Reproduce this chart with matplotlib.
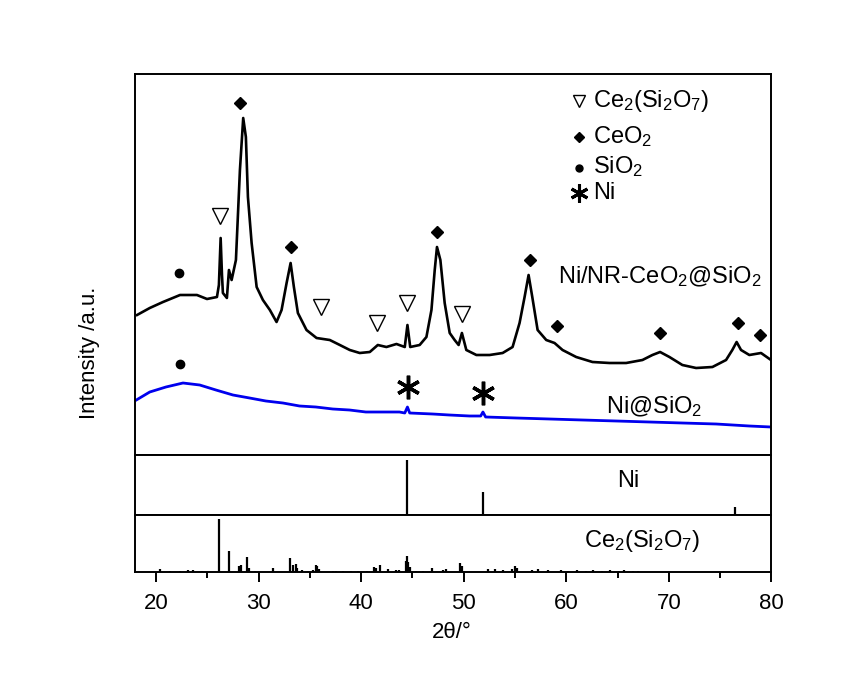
import numpy as np
import matplotlib
matplotlib.use("Agg")
import matplotlib.pyplot as plt
from matplotlib.ticker import MultipleLocator

plt.rcParams['font.family'] = ['Liberation Sans', 'DejaVu Sans']
plt.rcParams['mathtext.default'] = 'regular'

# Ni/NR-CeO2@SiO2 pattern (2theta, a.u.)
tt_cat = [18.15, 19.39, 20.68, 22.34, 23.99, 24.97, 25.94, 26.13, 26.30, 26.43,
          26.52, 26.91, 27.11, 27.37, 27.79, 28.18, 28.50, 28.76, 28.96, 29.32,
          29.81, 30.42, 31.10, 31.75, 32.24, 32.73, 33.12, 33.44, 33.83, 34.67,
          35.65, 36.94, 37.92, 38.89, 39.86, 40.84, 41.62, 42.46, 43.44, 44.25,
          44.51, 44.78, 45.70, 46.36, 46.85, 47.17, 47.39, 47.72, 48.14, 48.63,
          49.11, 49.50, 49.82, 50.25, 51.23, 52.52, 53.79, 54.76, 55.44, 55.93,
          56.32, 56.68, 57.20, 58.04, 58.85, 59.63, 60.96, 62.55, 64.21, 65.83,
          67.42, 68.39, 69.14, 70.05, 71.31, 72.65, 74.24, 75.57, 76.18, 76.60,
          77.03, 77.84, 78.98, 79.95]
i_cat = [140, 147, 153, 160, 160, 156, 158, 170, 217, 180,
         162, 157, 185, 175, 195, 285, 337, 318, 258, 212,
         168, 155, 145, 133, 145, 172, 192, 168, 142, 125,
         117, 115, 110, 105, 102, 103, 110, 108, 111, 108,
         130, 108, 110, 118, 145, 185, 208, 195, 152, 122,
         115, 110, 122, 105, 100, 100, 102, 108, 132, 158,
         180, 158, 125, 115, 112, 105, 98, 93, 92, 92,
         95, 100, 103, 98, 90, 87, 88, 95, 105, 113,
         105, 100, 102, 95]

# Ni@SiO2 pattern
tt_ref = [18.08, 19.39, 20.97, 22.63, 24.26, 25.84, 27.50, 29.12, 30.71, 32.37,
          33.99, 35.58, 37.23, 38.86, 40.45, 42.10, 43.73, 44.25, 44.51, 44.73,
          46.97, 48.60, 50.57, 51.65, 51.87, 52.13, 55.12, 58.36, 61.58, 64.86,
          68.10, 71.31, 74.60, 77.84, 79.95]
i_ref = [55, 63, 68, 72, 70, 65, 60, 57, 54, 52,
         49, 48, 46, 45, 43, 43, 43, 42, 48, 42,
         41, 40, 39, 39, 43, 38, 37, 36, 35, 34,
         33, 32, 31, 29, 28]

# reference sticks
ni_pos = [44.5, 51.85, 76.4]
ni_int = [100, 42, 15]

ce_pos = [20.39, 21.36, 22.34, 23.15, 23.63, 24.45, 26.16, 27.07, 28.11, 28.24,
          28.83, 29.03, 29.64, 31.42, 33.05, 33.37, 33.60, 33.76, 34.19, 34.83,
          35.32, 35.55, 35.74, 35.90, 37.27, 37.59, 38.24, 39.05, 39.70, 40.52,
          41.26, 41.49, 41.81, 42.62, 43.43, 43.69, 44.34, 44.44, 44.60, 44.73,
          45.38, 46.03, 46.90, 47.97, 48.30, 49.60, 49.80, 52.4, 53.0, 53.8,
          54.7, 55.0, 55.2, 56.7, 57.2, 58.2, 59.5, 60.2, 61.0, 61.9,
          62.6, 63.5, 64.3, 65.1, 65.6, 66.5, 67.0]
ce_int = [6, 2, 2, 3, 4, 2, 100, 40, 11, 13,
          28, 8, 2, 8, 27, 13, 16, 8, 4, 2,
          3, 13, 11, 6, 2, 2, 1, 2, 2, 1,
          9, 8, 14, 6, 3, 4, 21, 30, 19, 9,
          2, 2, 8, 4, 6, 18, 12, 5, 5, 4,
          6, 12, 8, 4, 6, 3, 3, 2, 3, 2,
          3, 2, 3, 2, 4, 2, 2]

# phase markers on the patterns
ceo2_x = [28.18, 33.15, 47.36, 56.42, 59.05, 69.17, 76.77, 78.91]
ceo2_y = [352, 208, 223, 195, 129, 122, 132, 120]
cs_x = [26.23, 36.07, 41.50, 44.48, 49.86]
cs_y = [239, 148, 132, 152, 141]
sio2_x = [22.24, 22.34]
sio2_y = [182, 91]
ni_x = [44.57, 51.87]
ni_y = [68, 62]

# symbol key (2theta, a.u.)
key_labels = ['Ce$_2$(Si$_2$O$_7$)', 'CeO$_2$', 'SiO$_2$', 'Ni']
key_sym_y = [354, 318, 287, 262]
key_txt_y = [348, 312, 282, 256]
key_sym_x = 61.2
key_txt_x = 62.6

fig = plt.figure(figsize=(8.45, 6.79), dpi=100)
L, W = 135.5 / 845, 636 / 845
ax1 = fig.add_axes([L, 1 - 455 / 679, W, 381 / 679])
ax2 = fig.add_axes([L, 1 - 515 / 679, W, 60 / 679], sharex=ax1)
ax3 = fig.add_axes([L, 1 - 572 / 679, W, 57 / 679], sharex=ax1)

ax1.plot(tt_cat, i_cat, color='black', lw=1.9)
ax1.plot(tt_ref, i_ref, color='#0000ee', lw=2.0)

ax1.plot(ceo2_x, ceo2_y, 'D', color='black', ms=6, ls='none')
ax1.plot(cs_x, cs_y, 'v', mfc='white', mec='black', mew=1.0, ms=11, ls='none')
ax1.plot(sio2_x, sio2_y, 'o', color='black', ms=6, ls='none')
ax1.plot(ni_x, ni_y, marker=(6, 2, 0), color='black', mew=2.5, ms=17, ls='none')

fs = 17
ax1.text(59.14, 172, 'Ni/NR-CeO$_2$@SiO$_2$', fontsize=fs, va='baseline')
ax1.text(63.91, 42, 'Ni@SiO$_2$', fontsize=fs, va='baseline')

ax1.plot([key_sym_x], [key_sym_y[0]], 'v', mfc='white', mec='black', mew=1.0, ms=9)
ax1.plot([key_sym_x], [key_sym_y[1]], 'D', color='black', ms=5)
ax1.plot([key_sym_x], [key_sym_y[2]], 'o', color='black', ms=5)
ax1.plot([key_sym_x], [key_sym_y[3]], marker=(6, 2, 0), color='black', mew=2.2, ms=13)
for lab, y in zip(key_labels, key_txt_y):
    ax1.text(key_txt_x, y, lab, fontsize=fs, va='baseline')

ax2.vlines(ni_pos, 0, ni_int, color='black', lw=1.6)
ax2.text(66.0, 62, 'Ni', fontsize=fs, ha='center', va='center')
ax3.vlines(ce_pos, 0, ce_int, color='black', lw=1.6)
ax3.text(67.4, 58, 'Ce$_2$(Si$_2$O$_7$)', fontsize=fs, ha='center', va='center')

ax1.set_xlim(18, 80)
ax1.set_ylim(0, 381)
ax2.set_ylim(0, 109)
ax3.set_ylim(0, 108)

for ax in (ax1, ax2, ax3):
    for s in ax.spines.values():
        s.set_linewidth(1.4)
    ax.set_yticks([])
    ax.tick_params(axis='x', which='both', bottom=False, labelbottom=False)

ax3.xaxis.set_major_locator(MultipleLocator(10))
ax3.xaxis.set_minor_locator(MultipleLocator(5))
ax3.tick_params(axis='x', which='both', bottom=True, labelbottom=True,
                direction='out', labelsize=16, pad=8)
ax3.tick_params(axis='x', which='major', length=7, width=1.4)
ax3.tick_params(axis='x', which='minor', length=4, width=1.4)

fig.text(452 / 845, 1 - 632 / 679, '2θ/°', fontsize=16, ha='center', va='center')
fig.text(90 / 845, 1 - 353 / 679, 'Intensity /a.u.', fontsize=16,
         rotation=90, ha='center', va='center')

fig.savefig('out.png', dpi=100)
